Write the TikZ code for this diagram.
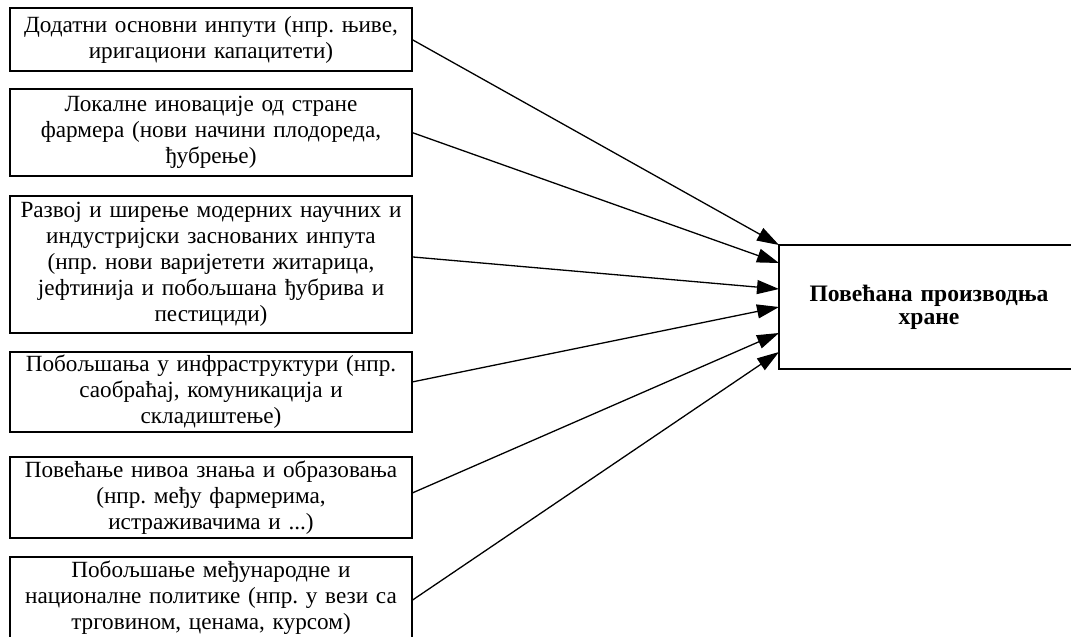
\documentclass[tikz,border=0pt]{standalone}
\usepackage{fontspec}
\setmainfont{Liberation Serif}
\frenchspacing
\usepackage{tikz}
\usetikzlibrary{arrows.meta, positioning}
\tikzstyle{factor} = [rectangle, minimum width=201pt, text width=198pt, inner xsep=1.5pt, inner ysep=1.5pt, outer sep=0pt, align=center, draw=black, line width=0.75pt, font=\fontsize{11.6pt}{13pt}\selectfont]
\tikzstyle{result} = [rectangle, minimum width=150pt, minimum height=62pt, text width=140pt, outer sep=0pt, align=center, draw=black, line width=0.75pt, font=\fontsize{11.8pt}{11.5pt}\selectfont\bfseries]
\tikzstyle{arrow} = [line width=0.65pt, -{Triangle[length=11pt, width=7pt]}]

\begin{document}
\begin{tikzpicture}[x=0.5pt, y=-0.5pt]
    \useasboundingbox (0,0) rectangle (1071,637);
    \node (inputs) [factor, minimum height=31.5pt] at (211,39.5) {Додатни основни инпути (нпр. њиве,\\ иригациони капацитети)};
    \node (local) [factor, minimum height=43.5pt, below=9pt of inputs] {Локалне иновације од стране\\ фармера (нови начини плодореда,\\ ђубрење)};
    \node (modern) [factor, minimum height=68.5pt, below=10pt of local] {Развој и ширење модерних научних и\\ индустријски заснованих инпута\\ (нпр. нови варијетети житарица,\\ јефтинија и побољшана ђубрива и\\ пестициди)};
    \node (infra) [factor, minimum height=40pt, below=9.5pt of modern] {Побољшања у инфраструктури (нпр.\\ саобраћај, комуникација и\\ складиштење)};
    \node (knowledge) [factor, minimum height=40.5pt, below=12.5pt of infra] {Повећање нивоа знања и образовања\\ (нпр. међу фармерима,\\ истраживачима и ...)};
    \node (policy) [factor, minimum height=41pt, below=9.5pt of knowledge] {Побољшање међународне и\\ националне политике (нпр. у вези са\\ трговином, ценама, курсом)};
    \node (food) [result] at (929,307) {Повећана производња\\ хране};

    \draw [arrow] (inputs.east) -- (food.north west);
    \draw [arrow] (local.east) -- ([yshift=22pt]food.west);
    \draw [arrow] ([yshift=3.8pt]modern.east) -- ([yshift=9pt]food.west);
    \draw [arrow] ([yshift=5pt]infra.east) -- (food.west);
    \draw [arrow] ([yshift=2.2pt]knowledge.east) -- ([yshift=-13pt]food.west);
    \draw [arrow] ([yshift=-1.2pt]policy.east) -- ([yshift=-22.5pt]food.west);
\end{tikzpicture}
\end{document}
